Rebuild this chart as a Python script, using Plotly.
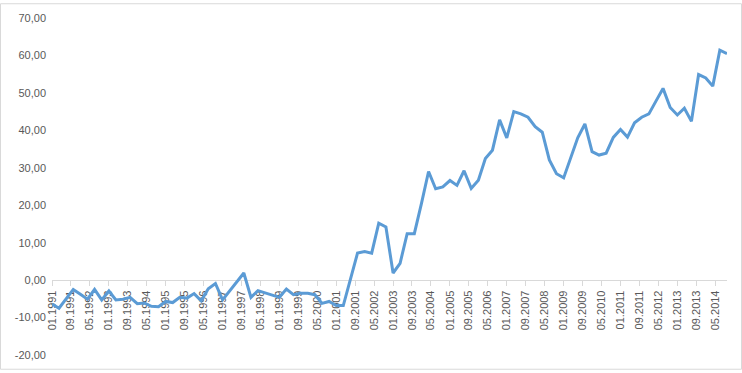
import plotly.graph_objects as go
import pandas as pd

# Quarterly observations, 01.1991 .. 10.2014
dates = pd.date_range("1991-01-01", periods=96, freq="3MS").strftime("%Y-%m-%d").tolist()

values = [
    -6.4, -7.5, -5.0, -2.5, -3.8, -5.1, -2.5, -5.3,   # 1991-1992
    -2.9, -5.3, -5.1, -4.6, -6.3, -6.1, -7.0, -7.1,   # 1993-1994
    -5.7, -6.0, -4.6, -4.8, -3.6, -5.5, -2.3, -0.9,   # 1995-1996
    -5.3, -2.9, -0.5, 1.9, -4.6, -2.8, -3.4, -4.0,    # 1997-1998
    -4.6, -2.4, -3.9, -3.5, -3.5, -3.9, -6.2, -5.7,   # 1999-2000
    -6.8, -6.8, 0.2, 7.2, 7.6, 7.2, 15.2, 14.2,       # 2001-2002
    1.9, 4.5, 12.4, 12.4, 20.5, 29.0, 24.4, 24.9,     # 2003-2004
    26.6, 25.3, 29.2, 24.5, 26.7, 32.5, 34.7, 42.8,   # 2005-2006
    38.0, 45.0, 44.4, 43.5, 41.0, 39.5, 32.1, 28.4,   # 2007-2008
    27.3, 32.5, 38.0, 41.7, 34.3, 33.4, 33.9, 38.1,   # 2009-2010
    40.2, 38.2, 42.0, 43.5, 44.4, 47.8, 51.2, 46.1,   # 2011-2012
    44.1, 45.9, 42.4, 54.9, 54.0, 51.8, 61.4, 60.5,   # 2013-2014
]

y_tickvals = [-20, -10, 0, 10, 20, 30, 40, 50, 60, 70]
y_ticktext = ["-20,00", "-10,00", "0,00", "10,00", "20,00", "30,00",
              "40,00", "50,00", "60,00", "70,00"]

fig = go.Figure()
fig.add_trace(go.Scatter(
    x=dates, y=values, mode="lines",
    line=dict(color="#5B9BD5", width=3),
    hoverinfo="skip",
))

W, H = 742, 373
ml, mr, mt, mb = 52, 15, 15, 15
pw, ph = W - ml - mr, H - mt - mb

fig.update_layout(
    width=W, height=H,
    margin=dict(l=ml, r=mr, t=mt, b=mb, pad=0),
    paper_bgcolor="white", plot_bgcolor="white",
    showlegend=False,
    font=dict(family="Liberation Sans, Arial, sans-serif", size=11, color="#595959"),
    xaxis=dict(
        type="date",
        range=[dates[0], dates[-1]],
        tick0=dates[0], dtick="M8", tickformat="%m.%Y",
        tickangle=-90,
        anchor="free", position=20 / 90,
        showline=True, linecolor="#d9d9d9", linewidth=1,
        ticks="outside", ticklen=5, tickcolor="#d9d9d9",
        showgrid=False, zeroline=False,
        layer="below traces",
        tickfont=dict(size=11, color="#595959"),
    ),
    yaxis=dict(
        range=[-20, 70],
        tickvals=y_tickvals, ticktext=y_ticktext,
        showgrid=False, zeroline=False, showline=False,
        ticks="", ticklabelstandoff=5,
        tickfont=dict(size=11, color="#595959"),
    ),
    shapes=[dict(
        type="rect", xref="paper", yref="paper",
        x0=-(ml - 0.5) / pw, x1=(W - ml - 0.5) / pw,
        y0=-(mb - 0.5) / ph, y1=(H - mb - 0.5) / ph,
        line=dict(color="#d9d9d9", width=1), fillcolor="rgba(0,0,0,0)",
        layer="below",
    )],
)

fig.write_html("out.html", config={"displayModeBar": False},
               post_script="document.body.style.margin='0';")
